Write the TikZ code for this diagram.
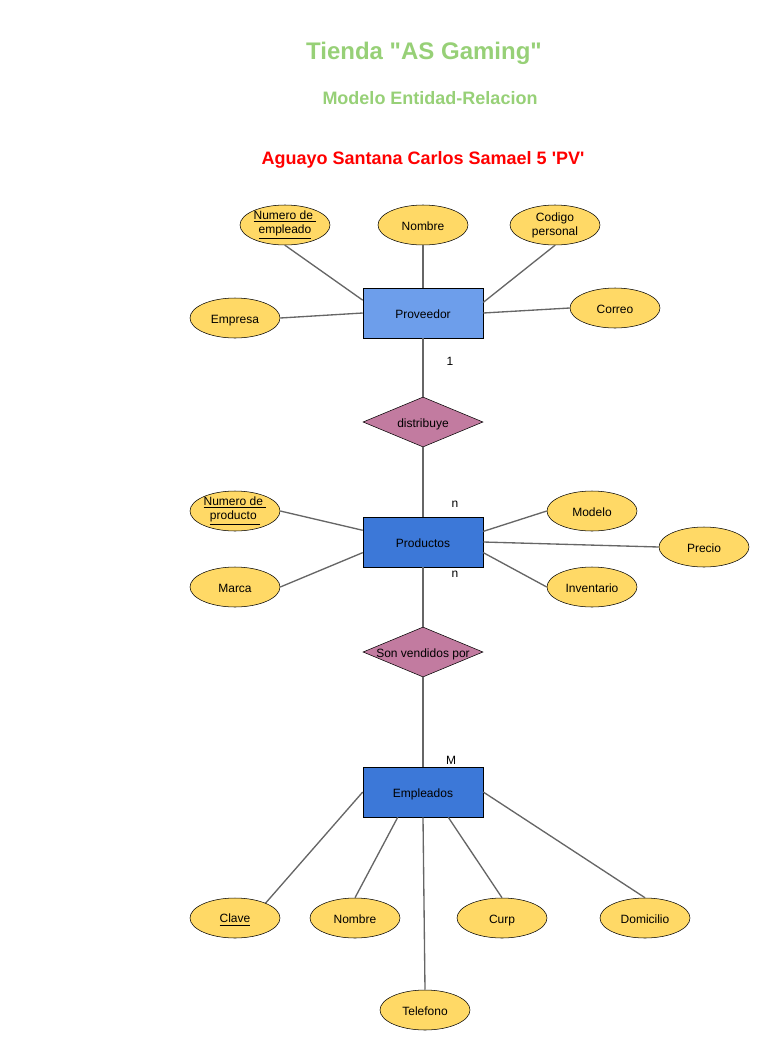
\documentclass[tikz,border=0pt]{standalone}
\usepackage{fontspec}
\setmainfont{Liberation Sans}
\usetikzlibrary{shapes.geometric}

\definecolor{verdetitulo}{HTML}{97D077}
\definecolor{amarillo}{HTML}{FFD966}
\definecolor{azulclaro}{HTML}{6D9EEB}
\definecolor{azul}{HTML}{3C78D8}
\definecolor{rosa}{HTML}{C27BA0}
\definecolor{gris}{HTML}{666666}

\newcommand{\puntal}{\rule[-1pt]{0pt}{10.5pt}}

\begin{document}
\begin{tikzpicture}[x=0.75pt,y=-0.75pt,
  atributo/.style={ellipse,draw=black,fill=amarillo,minimum width=67.5pt,
    minimum height=30pt,inner sep=0pt,align=center,font=\fontsize{9}{10.5}\selectfont,
    execute at begin node=\puntal},
  entidad/.style={rectangle,draw=black,fill=azul,minimum width=90pt,
    minimum height=37.5pt,inner sep=0pt,font=\fontsize{9}{10.5}\selectfont,
    execute at begin node=\puntal},
  relacion/.style={diamond,draw=black,fill=rosa,minimum width=90pt,
    minimum height=37.5pt,inner sep=0pt,font=\fontsize{9}{10.5}\selectfont},
  enlace/.style={draw=gris,line width=1pt},
  card/.style={inner sep=0pt,font=\fontsize{9}{10.5}\selectfont}]
\useasboundingbox (0,0) rectangle (770,1050);

% Titulos
\node[text=verdetitulo,font=\fontsize{18}{20}\selectfont\bfseries] (titulo) at (424,53) {Tienda \textquotedbl AS Gaming\textquotedbl};
\node[text=verdetitulo,font=\fontsize{13.5}{15}\selectfont\bfseries] (subtitulo) at (430,98) {Modelo Entidad-Relacion};
\node[text=red,font=\fontsize{13.5}{15}\selectfont\bfseries] (autor) at (423,160) {Aguayo Santana Carlos Samael 5 \textquotesingle PV\textquotesingle};

% Entidades
\node[entidad,fill=azulclaro] (prov) at (423,313) {Proveedor};
\node[entidad] (prod) at (423,542) {Productos};
\node[entidad] (emp) at (423,792) {Empleados};

% Relaciones
\node[relacion] (dist) at (423,422) {\makebox[0pt]{\puntal distribuye}};
\node[relacion] (vend) at (423,652) {\makebox[0pt]{\puntal Son vendidos por}};

% Atributos de Proveedor
\node[atributo] (numemp) at (285,225) {\underline{Numero de\ }\\\underline{empleado}};
\node[atributo] (nomprov) at (423,225) {Nombre};
\node[atributo] (codigo) at (555,225) {Codigo\\personal};
\node[atributo] (empresa) at (235,318) {Empresa};
\node[atributo] (correo) at (615,308) {Correo};

% Atributos de Productos
\node[atributo] (numprod) at (235,511) {\underline{Numero de\ }\\\underline{producto\ }};
\node[atributo] (marca) at (235,587) {Marca};
\node[atributo] (modelo) at (592,511) {Modelo};
\node[atributo] (precio) at (704,547) {Precio};
\node[atributo] (invent) at (592,587) {Inventario};

% Atributos de Empleados
\node[atributo] (clave) at (235,918) {\underline{Clave}};
\node[atributo] (nomemp) at (355,918) {Nombre};
\node[atributo] (curp) at (502,918) {Curp};
\node[atributo] (domic) at (645,918) {Domicilio};
\node[atributo] (tel) at (425,1010) {Telefono};

% Lineas entidad-relacion
\draw[enlace] (prov) -- (dist);
\draw[enlace] (dist) -- (prod);
\draw[enlace] (prod) -- (vend);
\draw[enlace] (vend) -- (emp);

% Cardinalidades
\node[card] (c1) at (450,361) {1};
\node[card] (c2) at (455,504) {n};
\node[card] (c3) at (455,574) {n};
\node[card] (c4) at (451,760) {M};

% Lineas de atributos
\draw[enlace] (numemp.south) -- (prov.168);
\draw[enlace] (nomprov.south) -- (prov.north);
\draw[enlace] (codigo.south) -- (prov.10);
\draw[enlace] (empresa.east) -- (prov.west);
\draw[enlace] (correo.west) -- (prov.east);

\draw[enlace] (numprod.east) -- (prod.169);
\draw[enlace] (marca.east) -- (prod.190);
\draw[enlace] (modelo.west) -- (prod.10);
\draw[enlace] (precio.west) -- (prod.east);
\draw[enlace] (invent.west) -- (prod.350);

\draw[enlace] (clave.26) -- (emp.west);
\draw[enlace] (nomemp.north) -- (emp.225);
\draw[enlace] (tel.north) -- (emp.south);
\draw[enlace] (curp.north) -- (emp.315);
\draw[enlace] (domic.north) -- (emp.east);
\end{tikzpicture}
\end{document}
